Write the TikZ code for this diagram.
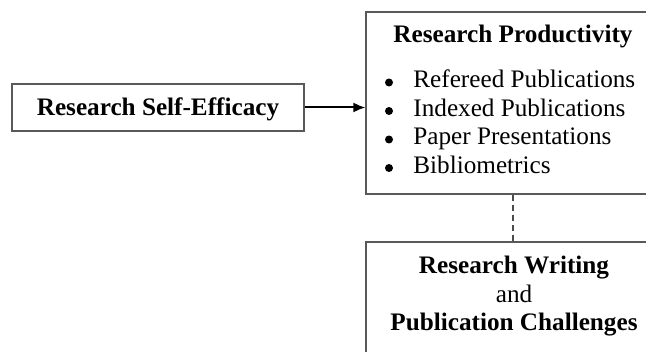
\documentclass[tikz,border=0pt]{standalone}
\usepackage{fontspec}
\setmainfont{Liberation Serif}
\usetikzlibrary{arrows.meta,positioning}
\tikzset{
  framebox/.style={draw=black!65, line width=0.6pt, inner sep=0pt},
  txt/.style={font=\fontsize{12.6}{14.25}\selectfont, inner sep=0pt, anchor=base},
  itemtxt/.style={txt, anchor=base west},
  dot/.style={circle, fill=black, inner sep=0pt, minimum size=4pt},
  link/.style={-{Latex[length=6pt,width=5pt]}, line width=1pt, black},
  dashlink/.style={dashed, dash pattern=on 3pt off 2pt, line width=0.8pt, black!70}
}
\begin{document}
\begin{tikzpicture}[x=0.5pt,y=-0.5pt]
  \useasboundingbox (0,0) rectangle (646,352);
  % boxes
  \node[framebox, minimum width=146pt, minimum height=23.5pt] (rse) at (158,107.5) {};
  \node[txt] (rsetxt) at (158,116) {\bfseries Research Self-Efficacy};
  \node[framebox, minimum width=147pt, minimum height=91pt] (rp) at (513,103) {};
  \node[framebox, minimum width=147pt, minimum height=64pt] (rwc) at (513,306) {};
  % productivity contents
  \node[txt] (rptitle) at (513,43) {\bfseries Research Productivity};
  \foreach \t [count=\i] in {Refereed Publications, Indexed Publications, Paper Presentations, Bibliometrics}{
    \node[dot] (b\i) at (389,{82.5+28.5*(\i-1)}) {};
    \node[itemtxt] (it\i) at (413,{88+28.5*(\i-1)}) {\t};
  }
  % challenges contents
  \node[txt] (rw1) at (514,273) {\bfseries Research Writing};
  \node[txt] (rw2) at (514,302) {and};
  \node[txt] (rw3) at (514,330) {\bfseries Publication Challenges};
  % connectors
  \draw[link] (rse.east) -- (rse.east -| rp.west);
  \draw[dashlink] (rp.south) -- (rwc.north);
\end{tikzpicture}
\end{document}
